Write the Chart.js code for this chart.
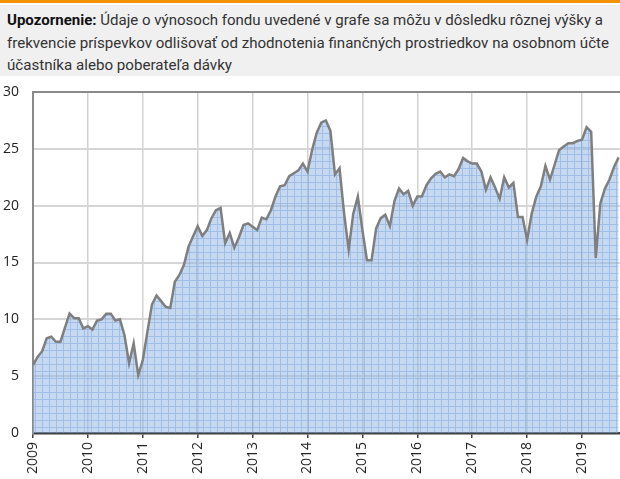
<!DOCTYPE html>
<html>
<head>
<meta charset="utf-8">
<script src="https://cdn.jsdelivr.net/npm/chart.js@4/dist/chart.umd.min.js"></script>
<style>
  html, body { margin:0; padding:0; background:#fff; width:620px; height:479px; overflow:hidden; }
  #orange { position:absolute; left:0; top:0; width:620px; height:3px; background:#f39200; }
  #note { position:absolute; left:0; top:5px; width:620px; height:71px; background:#f0f0f0; }
  .ln { position:absolute; left:7px; white-space:nowrap; font-family:Roboto, sans-serif; font-size:15px; color:#333; transform-origin:0 50%; line-height:18px; }
  .ln b { color:#111; font-weight:700; }
  #wrap { position:absolute; left:0; top:0; width:620px; height:479px; }
</style>
</head>
<body>
<div id="orange"></div>
<div id="note">
  <div class="ln" id="l1" style="top:6px"><b>Upozornenie:</b> Údaje o výnosoch fondu uvedené v grafe sa môžu v dôsledku rôznej výšky a</div>
  <div class="ln" id="l2" style="top:29px">frekvencie príspevkov odlišovať od zhodnotenia finančných prostriedkov na osobnom účte</div>
  <div class="ln" id="l3" style="top:51px">účastníka alebo poberateľa dávky</div>
</div>
<div id="wrap"><canvas id="c" width="620" height="479"></canvas></div>
<script>
// ---- data ----
const startYear = 2009;
const yearLabels = ['2009','2010','2011','2012','2013','2014','2015','2016','2017','2018','2019'];
const yTicks = [0, 5, 10, 15, 20, 25, 30];
const values = [
  5.98, 6.7, 7.2, 8.33, 8.47, 8.03, 8.03, 9.3, 10.5, 10.1,
  10.1, 9.2, 9.4, 9.1, 9.9, 10.0, 10.5, 10.5, 9.9, 10.0,
  8.6, 6.13, 7.89, 5.1, 6.42, 8.9, 11.3, 12.1, 11.6, 11.1,
  11.0, 13.3, 13.9, 14.8, 16.4, 17.3, 18.2, 17.35, 17.85, 18.9,
  19.6, 19.8, 16.7, 17.6, 16.3, 17.2, 18.3, 18.45, 18.15, 17.85,
  18.95, 18.8, 19.6, 20.8, 21.7, 21.8, 22.6, 22.85, 23.1, 23.7,
  23.0, 24.9, 26.4, 27.3, 27.5, 26.6, 22.75, 23.3, 19.3, 16.15,
  19.3, 20.8, 17.85, 15.2, 15.2, 18.0, 18.9, 19.2, 18.2, 20.4,
  21.5, 21.0, 21.3, 20.0, 20.8, 20.8, 21.8, 22.4, 22.8, 23.0,
  22.5, 22.75, 22.6, 23.2, 24.2, 23.9, 23.7, 23.7, 23.0, 21.4,
  22.5, 21.6, 20.6, 22.5, 21.6, 22.0, 19.0, 19.0, 17.0, 19.3,
  20.8, 21.7, 23.5, 22.3, 23.6, 24.9, 25.2, 25.5, 25.5, 25.7,
  25.8, 26.9, 26.5, 15.4, 20.2, 21.5, 22.3, 23.4, 24.25
];

// header line fitting
const targets = { l1: 596, l2: 602, l3: 225 };
for (const id in targets) {
  const el = document.getElementById(id);
  const w = el.getBoundingClientRect().width;
  el.style.transform = 'scaleX(' + (targets[id] / w) + ')';
}

// fill pattern
function makePattern() {
  const s = 7;
  const p = document.createElement('canvas');
  p.width = s; p.height = s;
  const g = p.getContext('2d');
  g.fillStyle = 'rgba(141,180,226,0.5)';
  g.fillRect(0, 0, s, s);
  g.fillStyle = 'rgba(110,160,225,0.45)';
  g.fillRect(0, 0, s, 1);
  g.fillRect(0, 1, 1, s - 1);
  return document.getElementById('c').getContext('2d').createPattern(p, 'repeat');
}

const points = values.map((v, i) => ({ x: i, y: v }));

const topBorder = {
  id: 'topBorder',
  afterDraw(chart) {
    const { ctx, chartArea } = chart;
    ctx.save();
    ctx.strokeStyle = '#8a8a8a';
    ctx.lineWidth = 2;
    ctx.beginPath();
    ctx.moveTo(chartArea.left, chartArea.top);
    ctx.lineTo(chartArea.right, chartArea.top);
    ctx.stroke();
    ctx.restore();
  }
};

new Chart(document.getElementById('c'), {
  type: 'line',
  data: {
    datasets: [{
      data: points,
      borderColor: '#7f7f7f',
      borderWidth: 2.5,
      pointRadius: 0,
      tension: 0,
      fill: 'origin',
      backgroundColor: makePattern()
    }]
  },
  options: {
    responsive: false,
    animation: false,
    events: [],
    layout: { padding: { top: 92, left: 0, right: 0, bottom: 0 } },
    plugins: { legend: { display: false }, tooltip: { enabled: false } },
    scales: {
      x: {
        type: 'linear',
        min: 0,
        max: 128.3,
        afterFit(scale) { scale.height = 46; },
        afterBuildTicks(scale) {
          scale.ticks = yearLabels.map((l, i) => ({ value: i * 12 }));
        },
        ticks: {
          autoSkip: false,
          minRotation: 90,
          maxRotation: 90,
          padding: 4,
          color: '#222',
          font: { family: 'Open Sans', size: 14 },
          callback: (v) => yearLabels[Math.round(v / 12)]
        },
        grid: { color: '#d2d2d2', lineWidth: 1.5, tickColor: '#404040', tickLength: 5, tickWidth: 1.5 },
        border: { color: '#404040', width: 2.5 }
      },
      y: {
        min: 0,
        max: 30,
        afterFit(scale) { scale.width = 33; },
        afterBuildTicks(scale) {
          scale.ticks = yTicks.map(v => ({ value: v }));
        },
        ticks: {
          padding: 14,
          color: '#222',
          font: { family: 'Open Sans', size: 14 }
        },
        grid: { color: '#d6d6d6', lineWidth: 2, drawTicks: false },
        border: { color: '#8a8a8a', width: 2 }
      }
    }
  },
  plugins: [topBorder]
});
</script>
</body>
</html>
